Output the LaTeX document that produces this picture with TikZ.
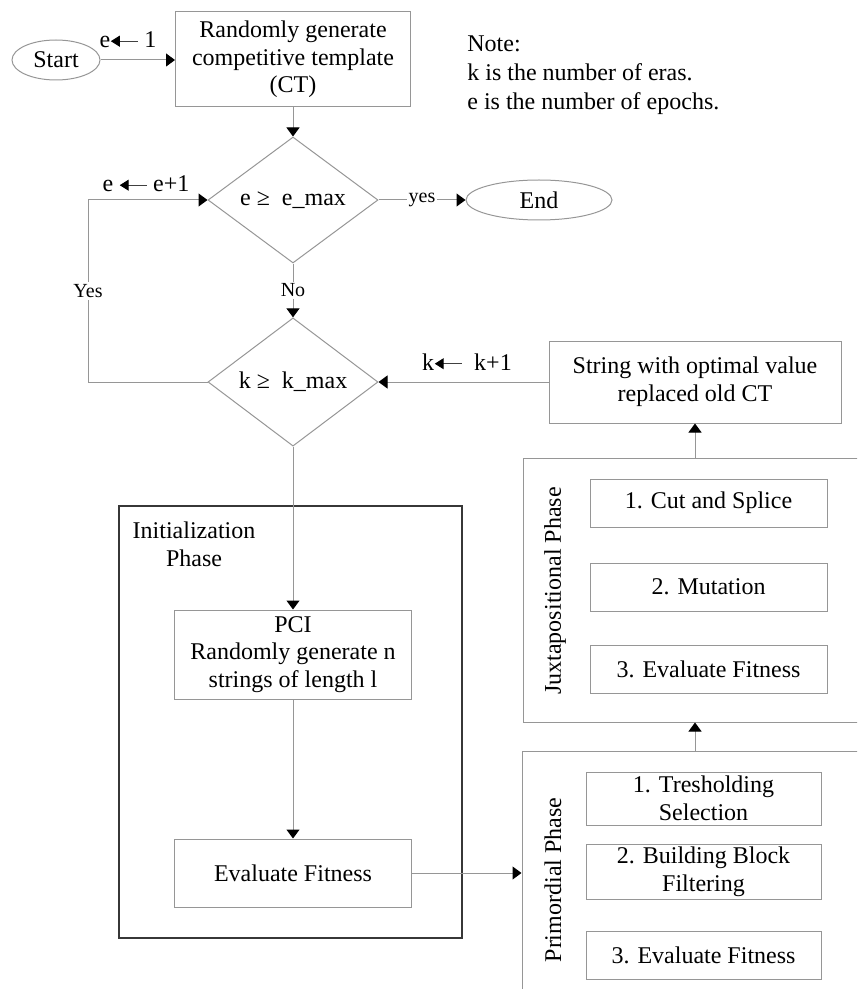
\documentclass[tikz,border=0pt]{standalone}
\usepackage{fontspec}
\setmainfont{Liberation Serif}
\usepackage{tikz}
\usetikzlibrary{positioning,arrows.meta,shapes.geometric}
\definecolor{grislinea}{RGB}{150,150,150}
\definecolor{grismarco}{RGB}{55,55,55}
\tikzset{caja/.style={draw=grislinea, line width=0.5pt, align=center, inner sep=1pt}}
\tikzset{rombo/.style={draw=grislinea, line width=0.5pt, diamond, inner sep=0pt, minimum width=85pt, minimum height=63pt}}
\tikzset{ovalo/.style={draw=grislinea, line width=0.5pt, ellipse, inner sep=0pt, minimum height=20pt}}
\tikzset{flecha/.style={draw=grislinea, line width=0.5pt, -{Triangle[length=4.5pt,width=6.5pt,color=black]}}}
\tikzset{etiqueta/.style={fill=white, inner sep=1pt, font=\fontsize{10}{12}\selectfont}}
\tikzset{fase/.style={draw=grislinea, line width=0.5pt}}
\newcommand{\asigna}{\tikz[baseline=-0.6ex]\draw[line width=0.5pt, draw=black!75, {Triangle[length=4.5pt,width=5.5pt,color=black]}-] (0,0) -- (13.5pt,0);}

\begin{document}
\begin{tikzpicture}[x=0.5pt, y=-0.5pt, font=\fontsize{12}{13.8}\selectfont]
            \clip (0,0) rectangle (857,989);

            \node[ovalo, minimum width=44pt] (start) at (56,60) {Start};
            \node[caja, minimum width=117.5pt, minimum height=47.5pt] (ct) at (293,59.5) {Randomly generate\\competitive template\\(CT)};
            \node[inner sep=0pt] (asig1) at (128,40) {e\asigna\ 1};
            \node[anchor=north west, inner sep=0pt, align=left, font=\fontsize{12}{14.5}\selectfont] (nota) at (467,35) {Note:\\k is the number of eras.\\e is the number of epochs.};

            \node[rombo] (d1) at (293,200) {e ≥\ \ e\_max};
            \node[ovalo, minimum width=73pt] (end) at (539,200) {End};
            \node[inner sep=0pt] (asig2) at (146,184) {e \asigna\ e+1};
            \coordinate (esquina) at (88,200);

            \node[rombo] (d2) at (293,382) {k ≥\ \ k\_max};
            \node[inner sep=0pt] (asig3) at (467,362) {k\asigna\ \ k+1};
            \node[caja, minimum width=146pt, minimum height=41pt] (rep) at (695,382) {String with optimal value\\replaced old CT};

            \node[draw=grismarco, line width=0.8pt, minimum width=171.5pt, minimum height=216pt] (init) at (290.5,722) {};
            \node[align=center, inner sep=0pt, font=\fontsize{12}{14}\selectfont] (initlbl) at (194,544) {Initialization\\Phase};
            \node[caja, minimum width=118.5pt, minimum height=44.5pt] (pci) at (293,654.5) {PCI\\Randomly generate n\\strings of length l};
            \node[caja, minimum width=118.5pt, minimum height=34pt] (eval) at (293,873) {Evaluate Fitness};

            \node[fase, minimum width=188.5pt, minimum height=132pt] (jux) at (711.5,590) {};
            \node[rotate=90, inner sep=0pt] (juxlbl) at (555,591) {Juxtapositional Phase};
            \node[caja, minimum width=118.5pt, minimum height=24pt] (jux1) at (708.5,503) {1. Cut and Splice};
            \node[caja, minimum width=118.5pt, minimum height=24pt] (jux2) at (708.5,587) {2. Mutation};
            \node[caja, minimum width=118.5pt, minimum height=24pt] (jux3) at (708.5,669) {3. Evaluate Fitness};

            \node[fase, minimum width=189pt, minimum height=129.5pt] (prim) at (711,880.5) {};
            \node[rotate=90, inner sep=0pt] (primlbl) at (553,880) {Primordial Phase};
            \node[caja, minimum width=117.5pt, minimum height=26.5pt] (prim1) at (703.5,798.5) {1. Tresholding\\Selection};
            \node[caja, minimum width=117.5pt, minimum height=27.5pt] (prim2) at (703.5,871.5) {2. Building Block\\Filtering};
            \node[caja, minimum width=117.5pt, minimum height=24pt] (prim3) at (703.5,955) {3. Evaluate Fitness};

            \draw[flecha] (start.east) -- (start.east -| ct.west);
            \draw[flecha] (ct) -- (d1);
            \draw[flecha] (d1) -- node[etiqueta] {yes} (end);
            \draw[flecha] (d1) -- node[etiqueta] {No} (d2);
            \draw[flecha] (d2.west) -| node[etiqueta, pos=0.75] {Yes} (esquina) -- (d1.west);
            \draw[flecha] (rep) -- (d2);
            \draw[flecha] (jux.north -| rep.south) -- (rep.south);
            \draw[flecha] (prim.north -| rep.south) -- (jux.south -| rep.south);
            \draw[flecha] (d2) -- (pci);
            \draw[flecha] (pci) -- (eval);
            \draw[flecha] (eval) -- (eval -| prim.west);
        \end{tikzpicture}
\end{document}
